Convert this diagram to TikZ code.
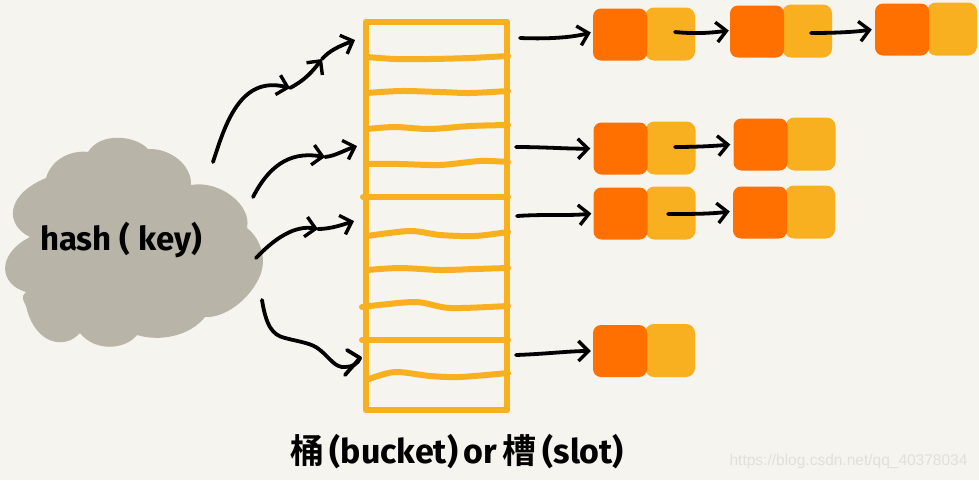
\documentclass[tikz,border=0pt]{standalone}
\usepackage{fontspec}
\setmainfont{Fira Sans}
\newfontfamily\cjkfont{Noto Sans CJK SC}[BoldFont=Noto Sans CJK SC Bold]
\newfontfamily\wmfont{Liberation Sans}
\usetikzlibrary{arrows.meta,calc}
\definecolor{bgc}{HTML}{F5F4EF}
\definecolor{cloudc}{HTML}{B8B4A8}
\definecolor{amberc}{HTML}{F9B020}
\definecolor{orangec}{HTML}{FF7000}
\definecolor{markc}{HTML}{E0DFDA}
\tikzset{
  x=1pt,y=-1pt,
  tablebox/.style={draw=amberc,line width=6.5pt,line join=round,inner sep=0pt,minimum width=141pt,minimum height=388pt},
  slotline/.style={draw=amberc,line width=6pt,line cap=round,line join=round},
  keycell/.style={fill=orangec,rounded corners=8pt,inner sep=0pt,minimum width=54pt,minimum height=52pt},
  valcell/.style={fill=amberc,rounded corners=9pt,inner sep=0pt,minimum width=50pt,minimum height=53pt},
  ink/.style={draw=black,line width=3.8pt,line cap=round,line join=round},
  pen/.style={ink,-{Straight Barb[length=10pt,width=20pt,line width=3.4pt]}},
}
\newcommand{\pair}[3]{%
  \node[valcell] (#1v) at (#2+50,#3-0.5) {};
  \node[keycell] (#1k) at (#2,#3) {};
}
\begin{document}
\begin{tikzpicture}
\useasboundingbox (0,0) rectangle (979,480);
\fill[bgc] (0,0) rectangle (979,480);

% cloud
\fill[cloudc] (30,237)
  .. controls (5,225) and (5,195) .. (46,178)
  .. controls (52,158) and (72,150) .. (88,152)
  .. controls (100,132) and (135,135) .. (148,149)
  .. controls (170,148) and (192,165) .. (191,185)
  .. controls (220,180) and (252,205) .. (247,228)
  .. controls (262,240) and (268,262) .. (258,280)
  .. controls (248,300) and (225,318) .. (205,317)
  .. controls (190,336) and (160,342) .. (137,335)
  .. controls (125,350) and (95,352) .. (80,333)
  .. controls (65,350) and (35,345) .. (26,306)
  .. controls (20,295) and (24,295) .. (26,292)
  .. controls (0,285) and (-5,255) .. (30,237) -- cycle;
\node[font=\fontsize{33}{33}\selectfont\bfseries] (hash) at (121,240) {hash ( key)};

% table
\node[tablebox] (table) at (436.5,216) {};
\draw[slotline] plot[smooth] coordinates {(367,57)(395,59)(430,59)(470,58)(508,56)};
\draw[slotline] plot[smooth] coordinates {(367,93)(400,91)(440,92)(470,93)(508,91)};
\draw[slotline] plot[smooth] coordinates {(367,129)(395,127)(430,129)(470,126)(508,125)};
\draw[slotline] plot[smooth] coordinates {(367,164)(400,164)(440,165)(480,161)(508,162)};
\draw[slotline] plot[smooth] coordinates {(363,197)(430,197)(508,197)};
\draw[slotline] plot[smooth] coordinates {(367,236)(410,231)(440,235)(475,236)(508,232)};
\draw[slotline] plot[smooth] coordinates {(367,270)(400,268)(440,270)(475,269)(508,268)};
\draw[slotline] plot[smooth] coordinates {(362,307)(415,302)(450,308)(508,306)};
\draw[slotline] plot[smooth] coordinates {(362,340)(430,340)(508,340)};
\draw[slotline] plot[smooth] coordinates {(369,379)(395,372)(430,376)(460,377)(508,373)};

% chains
\pair{a}{620}{34.5}
\pair{b}{757}{31.5}
\pair{c}{902}{29.5}
\pair{d}{620.5}{148.5}
\pair{e}{760.5}{144.5}
\pair{f}{620.5}{213.5}
\pair{g}{760}{212.5}
\pair{h}{620}{351}

% named free ends
\coordinate (s1) at (213,162);
\coordinate (m1a) at (290,88);
\coordinate (m1b) at (322,59);
\coordinate (t1) at (355,40);
\coordinate (s2) at (253,197);
\coordinate (m2) at (325,157);
\coordinate (t2) at (357,146);
\coordinate (s3) at (256,258);
\coordinate (m3) at (318,229);
\coordinate (t3) at (354,221);
\coordinate (s4) at (262,300);
\coordinate (t4) at (360,358);
\coordinate (b4a) at (347,350);
\coordinate (b4b) at (345,375);

% curved arrows
\draw[pen] (s1) .. controls (225,125) and (240,75) .. (m1a);
\draw[pen] (m1a) .. controls (305,80) and (312,72) .. (m1b);
\draw[pen] (m1b) .. controls (330,50) and (340,46) .. (t1);
\draw[pen] (s2) .. controls (272,160) and (295,152) .. (m2);
\draw[pen] (m2) .. controls (335,156) and (345,150) .. (t2);
\draw[pen] (s3) .. controls (275,238) and (295,225) .. (m3);
\draw[pen] (m3) .. controls (330,229) and (342,225) .. (t3);
\draw[ink] (s4) .. controls (266,325) and (272,335) .. (285,338)
  .. controls (300,342) and (312,343) .. (320,350)
  .. controls (330,358) and (335,368) .. (345,367)
  .. controls (352,367) and (358,364) .. (t4);
\draw[ink] (b4a) -- (t4) -- (b4b);

% straight arrows
\coordinate (r1) at (520,38);
\coordinate (r2) at (516,147);
\coordinate (r3) at (517,216);
\coordinate (r4) at (516,355);
\coordinate (l1) at (675,32);
\coordinate (l2) at (811,33);
\coordinate (l3) at (675,147);
\coordinate (l4) at (668,214);
\draw[pen] (r1) .. controls (545,39) and (570,38) .. ([xshift=-2pt,yshift=2pt]ak.west);
\draw[pen] (l1) .. controls (695,34) and (710,33) .. ([xshift=-1pt,yshift=1pt]bk.west);
\draw[pen] (l2) .. controls (835,33) and (855,32) .. ([xshift=-3pt]ck.west);
\draw[pen] (r2) .. controls (545,147) and (570,149) .. ([xshift=-3pt]dk.west);
\draw[pen] (l3) .. controls (695,147) and (715,146) .. ([xshift=-3pt]ek.west);
\draw[pen] (r3) .. controls (545,214) and (570,216) .. ([xshift=-2pt]fk.west);
\draw[pen] (l4) .. controls (690,214) and (710,214) .. ([xshift=-3pt,yshift=1pt]gk.west);
\draw[pen] (r4) .. controls (545,354) and (570,351) .. ([xshift=-2pt]hk.west);

% captions
\node[font=\fontsize{34}{34}\selectfont\bfseries] (cap) at (457,452) {{\cjkfont 桶}\,(bucket)\,or\,{\cjkfont 槽}\,(slot)};
\node[text=markc,font=\wmfont\fontsize{15.5}{15.5}\selectfont,anchor=east] (mark) at (971,461) {https://blog.csdn.net/qq\_40378034};
\end{tikzpicture}
\end{document}
